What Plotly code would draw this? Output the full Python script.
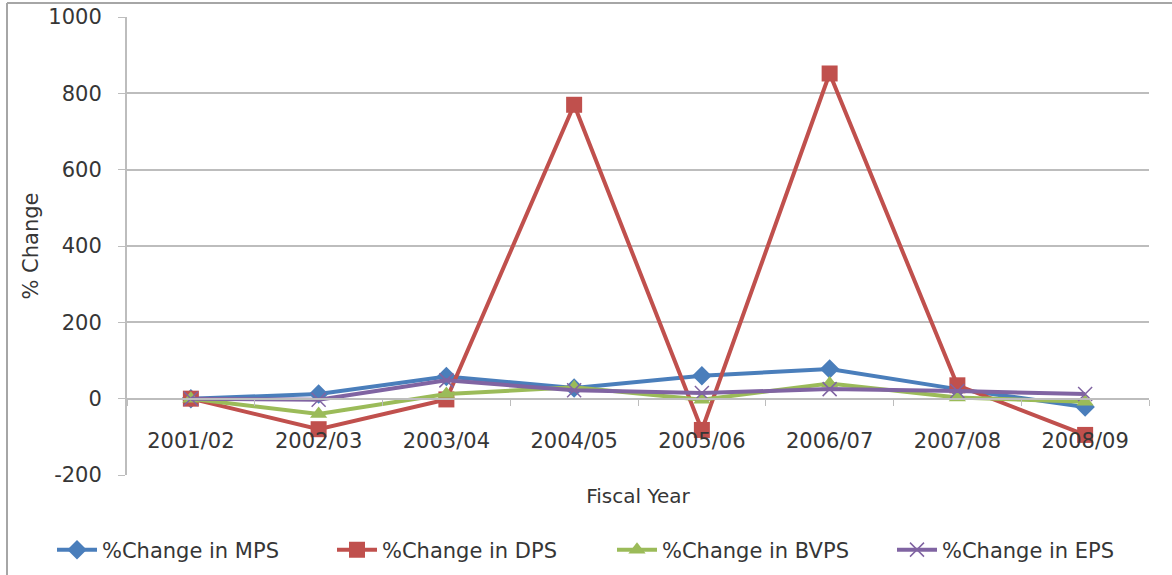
import plotly.graph_objects as go

# Fiscal years and year-on-year percentage changes per share metric
years = ["2001/02", "2002/03", "2003/04", "2004/05", "2005/06", "2006/07", "2007/08", "2008/09"]
mps_change = [0, 12, 58, 28, 60, 78, 25, -22]
dps_change = [0, -80, -2, 770, -82, 852, 35, -95]
bvps_change = [0, -40, 12, 30, -3, 40, 3, -8]
eps_change = [0, -3, 48, 22, 15, 25, 20, 12]

y_ticks = [-200, 0, 200, 400, 600, 800, 1000]
y_tick_text = [str(v) for v in y_ticks]

W, H = 1172, 575
M_L, M_R, M_T, M_B = 127, 23, 17, 100
Y_MIN, Y_MAX = -200, 1000
zero_frac = (0 - Y_MIN) / (Y_MAX - Y_MIN)
ph = H - M_T - M_B
pw = W - M_L - M_R

FONT = "DejaVu Sans"
TXT = "#363636"
GRID = "#bdbdbd"

series = [
    ("%Change in MPS", mps_change, "#4a7ebb", "diamond", 15),
    ("%Change in DPS", dps_change, "#c0504d", "square", 16),
    ("%Change in BVPS", bvps_change, "#9bbb59", "triangle-up", 15),
    ("%Change in EPS", eps_change, "#8064a2", "x-thin-open", 14),
]

fig = go.Figure()
for name, vals, color, symbol, size in series:
    marker = dict(symbol=symbol, size=size, color=color)
    if symbol.startswith("x"):
        marker["line"] = dict(color="#9aa3d6", width=1.5)
    fig.add_trace(go.Scatter(
        x=years, y=vals, name=name, mode="lines+markers",
        line=dict(color=color, width=4),
        marker=marker,
    ))

fig.update_layout(
    width=W, height=H,
    margin=dict(l=M_L, r=M_R, t=M_T, b=M_B, autoexpand=False),
    paper_bgcolor="white", plot_bgcolor="white",
    font=dict(family=FONT, size=20, color=TXT),
    showlegend=True,
    legend=dict(
        orientation="h", x=(52 - M_L) / pw, xanchor="left",
        y=-(550 - (H - M_B)) / ph, yanchor="middle",
        font=dict(family=FONT, size=21, color=TXT),
        itemwidth=40, traceorder="normal", entrywidth=225,
    ),
    xaxis=dict(
        type="category", range=[-0.5, 7.5],
        anchor="free", position=zero_frac, automargin=False,
        showline=True, linecolor=GRID, linewidth=2,
        showgrid=False, zeroline=False,
        ticks="outside", tickson="boundaries", ticklen=6, tickcolor=GRID,
        tickfont=dict(family=FONT, size=21, color=TXT),
        ticklabelstandoff=23,
        title=dict(text="Fiscal Year", font=dict(family=FONT, size=20, color=TXT), standoff=36),
    ),
    yaxis=dict(
        range=[Y_MIN, Y_MAX], tickvals=y_ticks, ticktext=y_tick_text,
        automargin=False,
        showline=True, linecolor=GRID, linewidth=2,
        showgrid=True, gridcolor=GRID, gridwidth=2,
        zeroline=True, zerolinecolor=GRID, zerolinewidth=2,
        ticks="outside", ticklen=7, tickcolor=GRID,
        tickfont=dict(family=FONT, size=21, color=TXT),
        ticklabelstandoff=12,
        title=dict(text="% Change", font=dict(family=FONT, size=21, color=TXT), standoff=4),
    ),
)

# outer chart frame (left and top edges)
fig.add_shape(type="line", xref="paper", yref="paper",
              x0=(7 - M_L) / pw, x1=(7 - M_L) / pw,
              y0=-(M_B) / ph, y1=1 + (M_T - 3) / ph,
              line=dict(color="#a6a6a6", width=2), layer="below")
fig.add_shape(type="line", xref="paper", yref="paper",
              x0=(7 - M_L) / pw, x1=(W - M_L) / pw,
              y0=1 + (M_T - 3) / ph, y1=1 + (M_T - 3) / ph,
              line=dict(color="#a6a6a6", width=2), layer="below")

fig.write_html("out.html")
